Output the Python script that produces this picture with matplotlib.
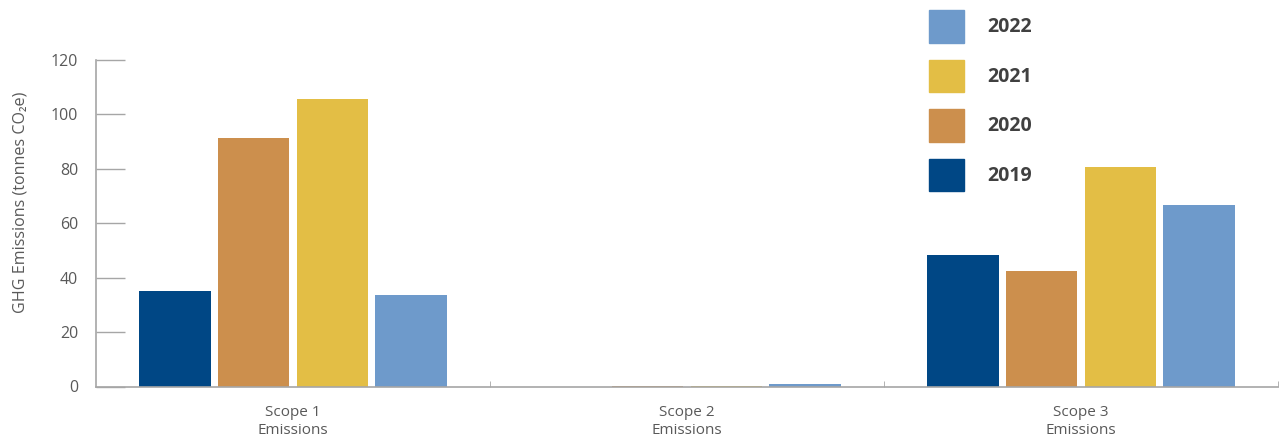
import numpy as np
import matplotlib
matplotlib.use("Agg")
import matplotlib.pyplot as plt
from matplotlib.patches import Patch

# =========================
# DATA
# =========================

categories = ["Scope 1\nEmissions", "Scope 2\nEmissions", "Scope 3\nEmissions"]
years = ["2019", "2020", "2021", "2022"]

values_2019 = [35.0, 0.0, 48.5]
values_2020 = [91.2, 0.2, 42.3]
values_2021 = [105.6, 0.3, 80.6]
values_2022 = [33.6, 1.0, 66.6]

series = [values_2019, values_2020, values_2021, values_2022]
colors = ["#004785", "#CC8F4D", "#E3BE45", "#6E9ACB"]

# =========================
# PLOT
# =========================

plt.rcParams["font.family"] = ["Open Sans", "DejaVu Sans"]
axis_grey = "#A6A6A6"
text_grey = "#595959"

fig = plt.figure(figsize=(12.81, 4.42), dpi=100)
ax = fig.add_axes([96 / 1281, 1 - 386.5 / 442, 1182 / 1281, 326.5 / 442])

x = np.arange(len(categories))
step = 0.2
width = 0.182
for i, (vals, col) in enumerate(zip(series, colors)):
    ax.bar(x + (i - 1.5) * step, vals, width=width, color=col, label=years[i])

ax.set_xlim(-0.5, 2.5)
ax.set_ylim(0, 120)
ax.set_yticks(range(0, 121, 20))
ax.set_xticks(x)
ax.set_xticklabels(categories, fontsize=11, color=text_grey, linespacing=1.3)
ax.set_xticks([0.5, 1.5, 2.5], minor=True)

ax.tick_params(axis="y", direction="in", length=21, width=1, color=axis_grey,
               labelsize=11.5, labelcolor=text_grey, pad=0)
for lbl in ax.get_yticklabels():
    lbl.set_x(-0.015)
ax.tick_params(axis="x", which="major", length=0, pad=13)
ax.tick_params(axis="x", which="minor", direction="in", length=4, color=axis_grey)

for side in ["top", "right"]:
    ax.spines[side].set_visible(False)
for side in ["left", "bottom"]:
    ax.spines[side].set_color(axis_grey)
    ax.spines[side].set_linewidth(1.2)

ax.set_ylabel("GHG Emissions (tonnes CO\u2082e)", fontsize=11.6, color=text_grey)
ax.yaxis.set_label_coords(-0.057, 0.565)

handles = [Patch(color=c, label=y) for c, y in zip(colors, years)][::-1]
fig.legend(handles=handles, loc="upper left", bbox_to_anchor=(915 / 1281, 1.008),
           frameon=False, handlelength=1.8, handleheight=2.2, handletextpad=1.2,
           labelspacing=0.87, borderaxespad=0.3,
           prop={"size": 14, "weight": "bold"}, labelcolor="#404040")

fig.savefig("out.png", dpi=100)
